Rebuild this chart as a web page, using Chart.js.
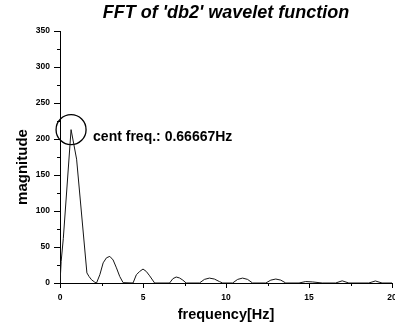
<!DOCTYPE html>
<html>
<head>
<meta charset="utf-8">
<script src="https://cdn.jsdelivr.net/npm/chart.js@4.4.1/dist/chart.umd.min.js"></script>
<style>
html, body { margin: 0; padding: 0; background: #fff; overflow: hidden; }
#wrap { width: 395px; height: 329px; overflow: hidden; }
</style>
</head>
<body>
<div id="wrap"><canvas id="chart-fft" width="400" height="329"></canvas></div>
<script>
// values
const freqHz = [0, 0.07, 0.2, 0.667, 1.0, 1.62, 1.75, 1.9, 2.1, 2.2, 2.4, 2.6, 2.8, 3.0, 3.2, 3.4, 3.6, 3.8,
    4.4, 4.6, 4.8, 5.0, 5.2, 5.4, 5.7, 6.6, 6.8, 7.0, 7.2, 7.4, 7.6, 8.4, 8.7, 9.0, 9.3, 9.6, 9.8,
    10.4, 10.7, 11.0, 11.3, 11.6, 12.4, 12.7, 13.0, 13.3, 13.6, 14.4, 14.8, 15.2, 15.8, 16.6, 17.0, 17.4,
    18.6, 19.0, 19.4, 20];
const magnitude = [0, 30, 62, 213, 172, 14, 9, 4.5, 1, 0, 11.5, 28, 35, 37, 32, 21, 9, 0.5,
    0, 11.5, 16, 19.4, 16, 10, 0, 0, 6, 8.3, 7, 4, 0, 0, 5, 6.8, 5.5, 2, 0,
    0, 5, 6.8, 5, 0, 0, 4, 5.5, 4, 0, 0, 2, 1.5, 0, 0, 3, 0,
    0, 2.8, 0, 0];

const centFreq = 0.66667;
const centMag = 213;

const xMajorStep = 5;
const yMajorStep = 50;
const xMinorTicks = [2.5, 7.5, 12.5, 17.5];
const yMinorTicks = [25, 75, 125, 175, 225, 275, 325];

const FONT = "'Liberation Sans', Arial, sans-serif";

// short minor tick marks outside the axes
const minorTicks = {
    id: 'minorTicks',
    afterDraw(chart) {
        const { ctx, scales: { x, y } } = chart;
        ctx.save();
        ctx.strokeStyle = '#000';
        ctx.lineWidth = 1;
        ctx.beginPath();
        xMinorTicks.forEach(v => {
            const px = Math.round(x.getPixelForValue(v)) + 0.5;
            ctx.moveTo(px, y.bottom);
            ctx.lineTo(px, y.bottom + 3);
        });
        yMinorTicks.forEach(v => {
            const py = Math.round(y.getPixelForValue(v)) + 0.5;
            ctx.moveTo(x.left, py);
            ctx.lineTo(x.left - 3, py);
        });
        ctx.stroke();
        ctx.restore();
    }
};

// "cent freq." note next to the circled peak, and the y axis title
const textBits = {
    id: 'textBits',
    afterDraw(chart) {
        const { ctx, chartArea, scales: { x, y } } = chart;
        const px = x.getPixelForValue(centFreq);
        const py = y.getPixelForValue(centMag);
        ctx.save();
        ctx.fillStyle = '#000';
        ctx.font = `bold 14px ${FONT}`;
        ctx.textBaseline = 'alphabetic';
        ctx.fillText(`cent freq.: ${centFreq}Hz`, px + 22, py + 11);

        // y title sits a bit below the middle of the axis
        ctx.font = `bold 15px ${FONT}`;
        ctx.textAlign = 'center';
        ctx.textBaseline = 'middle';
        ctx.translate(23, (chartArea.top + chartArea.bottom) / 2 + 10);
        ctx.rotate(-Math.PI / 2);
        ctx.fillText('magnitude', 0, 0);
        ctx.restore();
    }
};

const ctx = document.getElementById('chart-fft').getContext('2d');

new Chart(ctx, {
    type: 'line',
    data: {
        datasets: [{
            data: freqHz.map((f, i) => ({ x: f, y: magnitude[i] })),
            borderColor: '#151515',
            borderWidth: 1,
            pointRadius: 0,
            tension: 0,
            fill: false,
        }, {
            data: [{ x: centFreq, y: centMag }],
            showLine: false,
            clip: false,
            pointRadius: 15,
            pointHoverRadius: 15,
            pointBorderColor: '#000',
            pointBorderWidth: 1.3,
            pointBackgroundColor: 'rgba(0,0,0,0)',
        }]
    },
    options: {
        responsive: false,
        animation: false,
        events: [],
        layout: { autoPadding: false, padding: { left: 0, right: 8, top: 0, bottom: 0 } },
        plugins: {
            legend: { display: false },
            tooltip: { enabled: false },
            title: {
                display: true,
                text: "FFT of 'db2' wavelet function",
                fullSize: false,
                color: '#000',
                font: { family: FONT, size: 18, weight: 'bold', style: 'italic', lineHeight: 1.2 },
                padding: { top: 2, bottom: 7.4 }
            }
        },
        scales: {
            x: {
                type: 'linear',
                min: 0,
                max: 20,
                ticks: {
                    stepSize: xMajorStep,
                    color: '#000',
                    padding: 5,
                    maxRotation: 0,
                    font: { family: FONT, size: 8.5, weight: 'bold' }
                },
                grid: { drawOnChartArea: false, tickLength: 5, color: '#000' },
                border: { color: '#000', width: 1 },
                title: {
                    display: true,
                    text: 'frequency[Hz]',
                    color: '#000',
                    font: { family: FONT, size: 14.5, weight: 'bold' },
                    padding: { top: 4, bottom: 5 }
                },
                afterFit: s => { s.height = 46; s.paddingRight = 0; }
            },
            y: {
                min: 0,
                max: 350,
                ticks: {
                    stepSize: yMajorStep,
                    color: '#000',
                    padding: 4,
                    font: { family: FONT, size: 8.5, weight: 'bold' }
                },
                grid: { drawOnChartArea: false, tickLength: 6, color: '#000' },
                border: { color: '#000', width: 1 },
                afterFit: s => { s.width = 60; }
            }
        }
    },
    plugins: [minorTicks, textBits]
});
</script>
</body>
</html>
